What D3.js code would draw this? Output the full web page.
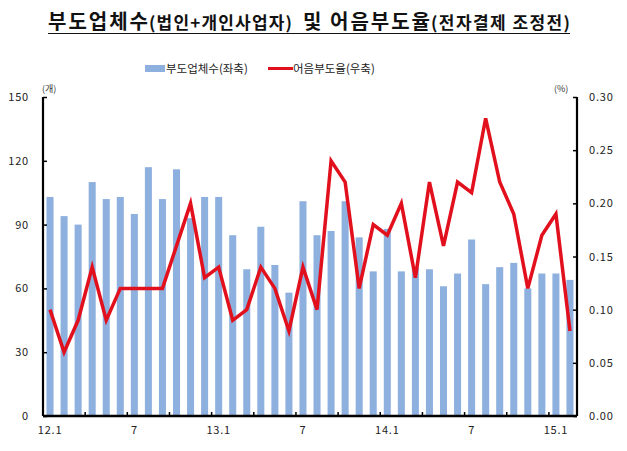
<!DOCTYPE html>
<html>
<head>
<meta charset="utf-8">
<script src="https://cdn.jsdelivr.net/npm/d3@7"></script>
<style>
  body { margin: 0; background: #fff; }
  text { font-family: "Noto Sans CJK KR", "DejaVu Sans", sans-serif; }
</style>
</head>
<body>
<div id="chart"></div>
<script>
// months 12.1 ~ 15.2
var months = ["12.1","12.2","12.3","12.4","12.5","12.6","12.7","12.8","12.9","12.10","12.11","12.12",
  "13.1","13.2","13.3","13.4","13.5","13.6","13.7","13.8","13.9","13.10","13.11","13.12",
  "14.1","14.2","14.3","14.4","14.5","14.6","14.7","14.8","14.9","14.10","14.11","14.12",
  "15.1","15.2"];

// 부도업체수 (left axis, 개)
var firms = [103, 94, 90, 110, 102, 103, 95, 117, 102, 116, 93, 103,
  103, 85, 69, 89, 71, 58, 101, 85, 87, 101, 84, 68,
  88, 68, 70, 69, 61, 67, 83, 62, 70, 72, 60, 67,
  67, 64];

// 어음부도율 (right axis, %)
var rate = [0.10, 0.06, 0.09, 0.14, 0.09, 0.12, 0.12, 0.12, 0.12, 0.16, 0.20, 0.13,
  0.14, 0.09, 0.10, 0.14, 0.12, 0.08, 0.14, 0.10, 0.24, 0.22, 0.12, 0.18,
  0.17, 0.20, 0.13, 0.22, 0.16, 0.22, 0.21, 0.28, 0.22, 0.19, 0.12, 0.17,
  0.19, 0.08];

var xLabels = {"12.1": "12.1", "12.7": "7", "13.1": "13.1", "13.7": "7", "14.1": "14.1", "14.7": "7", "15.1": "15.1"};
var leftTicks = [0, 30, 60, 90, 120, 150];
var rightTicks = [0, 0.05, 0.10, 0.15, 0.20, 0.25, 0.30];

var titleParts = ["부도업체수", "(법인+개인사업자)", "및", "어음부도율", "(전자결제 조정전)"];

var svgWidth = 627, svgHeight = 451;
var margin = { top: 97, right: 50, bottom: 35, left: 43 };
var chartWidth = svgWidth - margin.left - margin.right;
var chartHeight = svgHeight - margin.top - margin.bottom;

var svg = d3.select("#chart").append("svg")
  .attr("width", svgWidth)
  .attr("height", svgHeight);

// title, laid out piece by piece like the original
var titleLayout = [
  { x: 48, w: 100, size: 20 },
  { x: 149, w: 143, size: 17 },
  { x: 303, w: 19, size: 20 },
  { x: 330, w: 100, size: 20 },
  { x: 431, w: 139, size: 17 }
];
svg.append("g").selectAll("text")
  .data(titleParts)
  .enter()
  .append("text")
  .attr("x", (d, i) => titleLayout[i].x)
  .attr("y", 29)
  .attr("font-size", (d, i) => titleLayout[i].size)
  .attr("textLength", (d, i) => titleLayout[i].w)
  .attr("lengthAdjust", "spacing")
  .attr("font-weight", "bold")
  .attr("fill", "#111")
  .text(d => d);

svg.append("line")
  .attr("x1", 48).attr("x2", 570)
  .attr("y1", 33.5).attr("y2", 33.5)
  .attr("stroke", "#111").attr("stroke-width", 1);

// legend
var legend = svg.append("g").attr("font-size", 11.5).attr("fill", "#222");
legend.append("rect").attr("x", 145).attr("y", 65).attr("width", 20).attr("height", 7).attr("fill", "#8eb0de");
legend.append("text").attr("x", 166).attr("y", 73).text("부도업체수(좌축)");
legend.append("line").attr("x1", 268).attr("x2", 293).attr("y1", 68.5).attr("y2", 68.5)
  .attr("stroke", "#e2101c").attr("stroke-width", 3);
legend.append("text").attr("x", 293).attr("y", 73).text("어음부도율(우축)");

var chartGroup = svg.append("g")
  .attr("transform", `translate(${margin.left}, ${margin.top})`);

var xScale = d3.scaleBand()
  .domain(months)
  .range([0, chartWidth])
  .paddingInner(0.5)
  .paddingOuter(0.25);

var yLeft = d3.scaleLinear().domain([0, 150]).range([chartHeight, 0]);
var yRight = d3.scaleLinear().domain([0, 0.30]).range([chartHeight, 0]);

// bars
chartGroup.selectAll(".bar")
  .data(firms)
  .enter()
  .append("rect")
  .attr("class", "bar")
  .attr("x", (d, i) => xScale(months[i]))
  .attr("width", xScale.bandwidth())
  .attr("y", d => yLeft(d))
  .attr("height", d => chartHeight - yLeft(d))
  .attr("fill", "#8eb0de");

// line
var line = d3.line()
  .x((d, i) => xScale(months[i]) + xScale.bandwidth() / 2)
  .y(d => yRight(d));

chartGroup.append("path")
  .datum(rate)
  .attr("d", line)
  .attr("fill", "none")
  .attr("stroke", "#e2101c")
  .attr("stroke-width", 3.5)
  .attr("stroke-linejoin", "miter");

// left axis
var leftAxis = d3.axisLeft(yLeft).tickValues(leftTicks).tickSize(-4).tickPadding(14);
var gl = chartGroup.append("g").call(leftAxis);
gl.select(".domain").attr("stroke-width", 2.2).attr("d", `M0,0V${chartHeight}`);
gl.selectAll(".tick line").attr("stroke-width", 1.5);
gl.selectAll("text").attr("font-size", 11).attr("fill", "#222").attr("font-family", "DejaVu Sans").attr("letter-spacing", 0.8);

// right axis
var rightAxis = d3.axisRight(yRight).tickValues(rightTicks).tickSize(-4).tickPadding(12)
  .tickFormat(d3.format(".2f"));
var gr = chartGroup.append("g").attr("transform", `translate(${chartWidth}, 0)`).call(rightAxis);
gr.select(".domain").attr("stroke-width", 2.2).attr("d", `M0,0V${chartHeight}`);
gr.selectAll(".tick line").attr("stroke-width", 1.5);
gr.selectAll("text").attr("font-size", 11).attr("fill", "#222").attr("font-family", "DejaVu Sans").attr("letter-spacing", 0.8);

// bottom axis
var step = xScale.step();
var xAxis = d3.axisBottom(xScale)
  .tickValues(Object.keys(xLabels))
  .tickFormat(d => xLabels[d])
  .tickSize(0)
  .tickPadding(10);
var gx = chartGroup.append("g").attr("transform", `translate(0, ${chartHeight})`).call(xAxis);
gx.select(".domain").attr("stroke-width", 2.5).attr("d", `M0,0H${chartWidth}`);
gx.selectAll("text").attr("font-size", 11).attr("fill", "#222").attr("font-family", "DejaVu Sans").attr("letter-spacing", 0.8);

// tick marks every 3 months at band boundaries
var boundaries = months.filter((m, i) => i > 0 && i % 3 === 0);
gx.selectAll(".month-tick")
  .data(boundaries)
  .enter()
  .append("line")
  .attr("x1", d => xScale(d) - step * xScale.paddingInner() / 2)
  .attr("x2", d => xScale(d) - step * xScale.paddingInner() / 2)
  .attr("y1", 0).attr("y2", -4)
  .attr("stroke", "#000").attr("stroke-width", 1.5);

// unit labels
svg.append("text").attr("x", 42).attr("y", 92).attr("font-size", 9).attr("fill", "#333").text("(개)");
svg.append("text").attr("x", 554).attr("y", 92).attr("font-size", 9).attr("fill", "#333").text("(%)");
</script>
</body>
</html>
